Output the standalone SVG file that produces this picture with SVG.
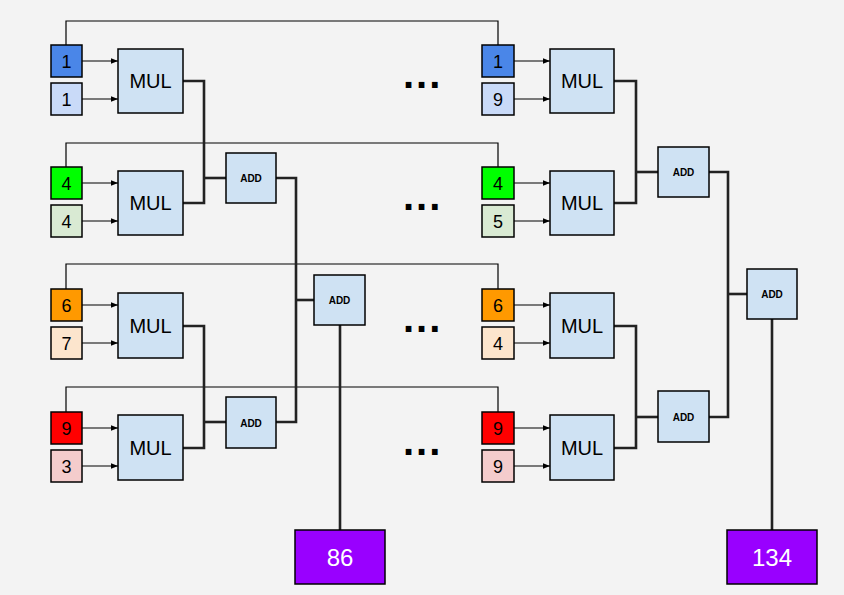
<svg xmlns="http://www.w3.org/2000/svg" width="844" height="595" viewBox="0 0 844 595">
<defs>
<marker id="ah" viewBox="0 0 10 10" refX="10" refY="5" markerWidth="7" markerHeight="7" orient="auto" markerUnits="userSpaceOnUse"><path d="M0,1 L10,5 L0,9 Z" fill="#000"/></marker>
<style>
.b{stroke:#000;stroke-width:1.5}
.num{font-family:"Liberation Sans",Arial,sans-serif;font-size:18px;text-anchor:middle;fill:#000}
.mul{font-family:"Liberation Sans",Arial,sans-serif;font-size:20px;text-anchor:middle;fill:#000}
.add{font-family:"Liberation Sans",Arial,sans-serif;font-size:10px;font-weight:bold;text-anchor:middle;fill:#000}
.res{font-family:"Liberation Sans",Arial,sans-serif;font-size:24px;text-anchor:middle;fill:#fff}
.dots{font-family:"Liberation Sans",Arial,sans-serif;font-size:40px;font-weight:bold;letter-spacing:2px;fill:#000}
.op{fill:#cfe2f3}
.thin{stroke:#000;stroke-width:1.2;fill:none}
.thick{stroke:#222;stroke-width:2.6;fill:none;stroke-linejoin:miter}
.arr{stroke:#000;stroke-width:1.2;fill:none;marker-end:url(#ah)}
</style>
</defs>
<rect width="844" height="595" fill="#f3f3f3"/>
<g id="connectors">
<!-- long thin links from left to right inputs -->
<path class="thin" d="M66,45 V21 H498 V45"/>
<path class="thin" d="M66,167 V143 H498 V167"/>
<path class="thin" d="M66,289 V264 H498 V289"/>
<path class="thin" d="M66,412 V387 H498 V412"/>
<!-- arrows into MULs -->
<path class="arr" d="M82,61 H118"/>
<path class="arr" d="M82,99 H118"/>
<path class="arr" d="M82,183 H118"/>
<path class="arr" d="M82,221 H118"/>
<path class="arr" d="M82,305 H118"/>
<path class="arr" d="M82,343 H118"/>
<path class="arr" d="M82,428 H118"/>
<path class="arr" d="M82,466 H118"/>
<path class="arr" d="M514,61 H550"/>
<path class="arr" d="M514,99 H550"/>
<path class="arr" d="M514,183 H550"/>
<path class="arr" d="M514,221 H550"/>
<path class="arr" d="M514,305 H550"/>
<path class="arr" d="M514,343 H550"/>
<path class="arr" d="M514,428 H550"/>
<path class="arr" d="M514,466 H550"/>
<!-- left tree -->
<path class="thick" d="M183,81 H204 V203 H183"/>
<path class="thick" d="M204,178 H226"/>
<path class="thick" d="M183,326 H204 V448 H183"/>
<path class="thick" d="M204,422 H226"/>
<path class="thick" d="M276,178 H296 V422 H276"/>
<path class="thick" d="M296,300 H314"/>
<path class="thick" d="M340,325 V530"/>
<!-- right tree -->
<path class="thick" d="M614,81 H636 V203 H614"/>
<path class="thick" d="M636,172 H658"/>
<path class="thick" d="M614,326 H636 V448 H614"/>
<path class="thick" d="M636,417 H658"/>
<path class="thick" d="M709,172 H728 V417 H709"/>
<path class="thick" d="M728,294 H747"/>
<path class="thick" d="M772,319 V530"/>
</g>
<!-- left inputs -->
<g id="inL1a"><rect class="b" x="51" y="45" width="31" height="32" fill="#4a86e8"/><text class="num" x="66.5" y="68">1</text></g>
<g id="inL1b"><rect class="b" x="51" y="83" width="31" height="32" fill="#c9daf8"/><text class="num" x="66.5" y="106">1</text></g>
<g id="inL2a"><rect class="b" x="51" y="167" width="31" height="32" fill="#00ff00"/><text class="num" x="66.5" y="190">4</text></g>
<g id="inL2b"><rect class="b" x="51" y="205" width="31" height="32" fill="#d9ead3"/><text class="num" x="66.5" y="228">4</text></g>
<g id="inL3a"><rect class="b" x="51" y="289" width="31" height="32" fill="#ff9900"/><text class="num" x="66.5" y="312">6</text></g>
<g id="inL3b"><rect class="b" x="51" y="327" width="31" height="32" fill="#fce5cd"/><text class="num" x="66.5" y="350">7</text></g>
<g id="inL4a"><rect class="b" x="51" y="412" width="31" height="32" fill="#ff0000"/><text class="num" x="66.5" y="435">9</text></g>
<g id="inL4b"><rect class="b" x="51" y="450" width="31" height="32" fill="#f4cccc"/><text class="num" x="66.5" y="473">3</text></g>
<!-- right inputs -->
<g id="inR1a"><rect class="b" x="482" y="45" width="32" height="32" fill="#4a86e8"/><text class="num" x="498" y="68">1</text></g>
<g id="inR1b"><rect class="b" x="482" y="83" width="32" height="32" fill="#c9daf8"/><text class="num" x="498" y="106">9</text></g>
<g id="inR2a"><rect class="b" x="482" y="167" width="32" height="32" fill="#00ff00"/><text class="num" x="498" y="190">4</text></g>
<g id="inR2b"><rect class="b" x="482" y="205" width="32" height="32" fill="#d9ead3"/><text class="num" x="498" y="228">5</text></g>
<g id="inR3a"><rect class="b" x="482" y="289" width="32" height="32" fill="#ff9900"/><text class="num" x="498" y="312">6</text></g>
<g id="inR3b"><rect class="b" x="482" y="327" width="32" height="32" fill="#fce5cd"/><text class="num" x="498" y="350">4</text></g>
<g id="inR4a"><rect class="b" x="482" y="412" width="32" height="32" fill="#ff0000"/><text class="num" x="498" y="435">9</text></g>
<g id="inR4b"><rect class="b" x="482" y="450" width="32" height="32" fill="#f4cccc"/><text class="num" x="498" y="473">9</text></g>
<!-- MUL nodes -->
<g id="mulL1"><rect class="b op" x="118" y="49" width="65" height="64"/><text class="mul" x="150.5" y="88">MUL</text></g>
<g id="mulL2"><rect class="b op" x="118" y="171" width="65" height="64"/><text class="mul" x="150.5" y="210">MUL</text></g>
<g id="mulL3"><rect class="b op" x="118" y="293" width="65" height="65"/><text class="mul" x="150.5" y="333">MUL</text></g>
<g id="mulL4"><rect class="b op" x="118" y="415" width="65" height="65"/><text class="mul" x="150.5" y="455">MUL</text></g>
<g id="mulR1"><rect class="b op" x="550" y="49" width="64" height="64"/><text class="mul" x="582" y="88">MUL</text></g>
<g id="mulR2"><rect class="b op" x="550" y="171" width="64" height="64"/><text class="mul" x="582" y="210">MUL</text></g>
<g id="mulR3"><rect class="b op" x="550" y="293" width="64" height="65"/><text class="mul" x="582" y="333">MUL</text></g>
<g id="mulR4"><rect class="b op" x="550" y="415" width="64" height="65"/><text class="mul" x="582" y="455">MUL</text></g>
<!-- ADD nodes -->
<g id="addL1"><rect class="b op" x="226" y="153" width="50" height="50"/><text class="add" x="251" y="182">ADD</text></g>
<g id="addL2"><rect class="b op" x="226" y="397" width="50" height="51"/><text class="add" x="251" y="427">ADD</text></g>
<g id="addL3"><rect class="b op" x="314" y="275" width="51" height="50"/><text class="add" x="339.5" y="304">ADD</text></g>
<g id="addR1"><rect class="b op" x="658" y="147" width="51" height="50"/><text class="add" x="683.5" y="176">ADD</text></g>
<g id="addR2"><rect class="b op" x="658" y="391" width="51" height="51"/><text class="add" x="683.5" y="421">ADD</text></g>
<g id="addR3"><rect class="b op" x="747" y="269" width="50" height="50"/><text class="add" x="772" y="298">ADD</text></g>
<!-- results -->
<g id="res86"><rect class="b" x="295" y="530" width="90" height="54" fill="#9900ff"/><text class="res" x="340" y="566">86</text></g>
<g id="res134"><rect class="b" x="727" y="530" width="90" height="54" fill="#9900ff"/><text class="res" x="772" y="566">134</text></g>
<!-- ellipses -->
<g id="dots">
<text class="dots" x="403" y="88">...</text>
<text class="dots" x="403" y="210">...</text>
<text class="dots" x="403" y="332">...</text>
<text class="dots" x="403" y="455">...</text>
</g>
</svg>
